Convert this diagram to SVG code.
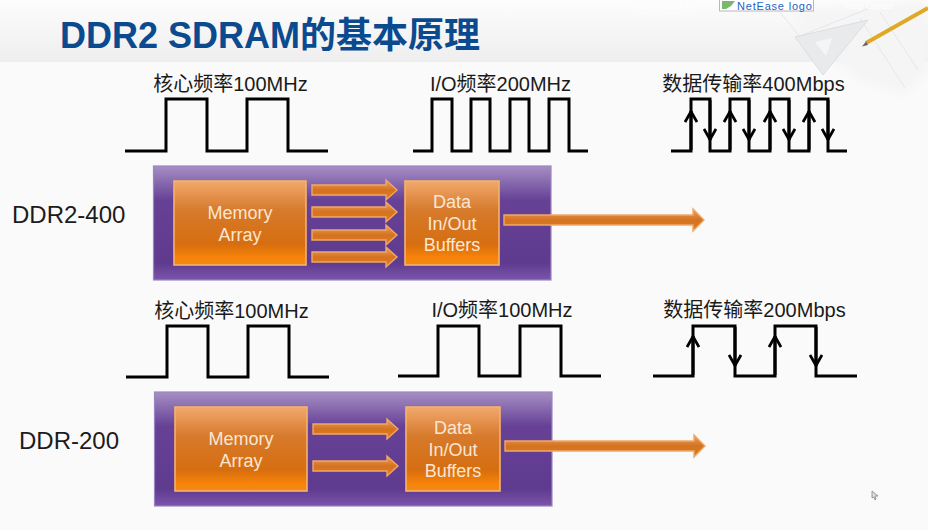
<svg xmlns="http://www.w3.org/2000/svg" width="928" height="530" viewBox="0 0 928 530">
<defs>
<filter id="soft" x="-20%" y="-20%" width="140%" height="140%"><feGaussianBlur stdDeviation="5"/></filter>
<filter id="tiny" x="-10%" y="-10%" width="120%" height="120%"><feGaussianBlur stdDeviation=".6"/></filter>
<linearGradient id="hdr" x1="0" y1="0" x2="0" y2="1"><stop offset="0" stop-color="#fdfdfd"/><stop offset="1" stop-color="#eeeeee"/></linearGradient>
<linearGradient id="panel" x1="0" y1="0" x2="0" y2="1"><stop offset="0" stop-color="#a68fc4"/><stop offset=".3" stop-color="#664196"/><stop offset=".85" stop-color="#5f3b90"/><stop offset="1" stop-color="#7a55a9"/></linearGradient>
<linearGradient id="box" x1="0" y1="0" x2="0" y2="1"><stop offset="0" stop-color="#f2a86c"/><stop offset=".35" stop-color="#d67a2c"/><stop offset=".75" stop-color="#d66e10"/><stop offset=".92" stop-color="#f98408"/><stop offset="1" stop-color="#ee8a1c"/></linearGradient>
<linearGradient id="arr" x1="0" y1="0" x2="0" y2="1"><stop offset="0" stop-color="#eca066"/><stop offset=".5" stop-color="#d4731f"/><stop offset="1" stop-color="#e07c20"/></linearGradient>
<marker id="tip" viewBox="0 0 14 14" refX="13" refY="7" markerWidth="14" markerHeight="14" markerUnits="userSpaceOnUse" orient="auto"><path d="M2 1 L12.500 7 L2 13" fill="none" stroke="#000" stroke-width="2.800"/></marker>
</defs>
<style>
.bg{fill:#fafafb}
.panel{fill:url(#panel);stroke:#9a86c0;stroke-width:1.2}
.box{fill:url(#box);stroke:#f6b26e;stroke-width:1.6}
.arrow{fill:url(#arr);stroke:#f0a868;stroke-width:1.4}
.wave{fill:none;stroke:#000;stroke-width:3}
.edge{fill:none;stroke:#000;stroke-width:3;marker-end:url(#tip)}
text{font-family:"Liberation Sans","Noto Sans CJK SC",sans-serif}
.cap{font-size:20px;fill:#1a1a1a;text-anchor:middle}
.in{font-size:18px;fill:#fbe6d2;text-anchor:middle}
.name{font-size:24px;fill:#1c1c1c}
.title{font-size:36px;font-weight:bold;fill:#0b4a8e}
.draft{fill:none;stroke:#e6e7e9;stroke-width:1}
.top{font-size:9px;fill:#fff}
</style>
<rect class="bg" width="928" height="530"/>
<g id="header">
<rect width="928" height="62" fill="url(#hdr)"/>
<path d="M790 10 L928 0 V70 L905 95 L860 80 L830 58Z" fill="#f5f5f6" filter="url(#soft)"/>
<path class="draft" d="M780 12 L812 52 M860 18 L905 88 M880 12 L918 70 M800 36 L870 8"/>
<path d="M795 37 L868 20 L823 75Z" fill="#e9eaec" stroke="#dcdde0" filter="url(#tiny)"/>
<path d="M815 42 L832 38 L826 56Z" fill="#f5f5f6"/>
<path d="M866 43 L928 8" stroke="#dfa925" stroke-width="4" fill="none"/>
<path d="M862 46.500 L866 41.500 L868 45Z" fill="#666"/>
<text class="top" x="630" y="9">Video hosted by</text>
<rect x="719.500" y="-8" width="94" height="19" fill="#fff" stroke="#b8b8c0"/>
<path d="M722 1H735L731 6L726 9H722Z" fill="#7cb86a"/>
<text x="737" y="10" font-size="11" letter-spacing=".8" fill="#1c62c8">NetEase logo</text>
<text class="top" x="845" y="9">Help Center</text>
<text class="title" x="60" y="48">DDR2 SDRAM的基本原理</text>
</g>
<g id="row-ddr2-400">
<text class="name" x="12" y="223">DDR2-400</text>
<text class="cap" x="230.500" y="91">核心频率100MHz</text>
<text class="cap" x="500.500" y="91">I/O频率200MHz</text>
<text class="cap" x="753.500" y="91">数据传输率400Mbps</text>
<path class="wave" d="M125 151H166V99H207V151H247V99H288V151H328"/>
<path class="wave" d="M413 151H432V99H452V151H471V99H490V151H510V99H529V151H549V99H569V151H588"/>
<path class="wave" d="M671 151H691V99H710V151H730V99H749V151H770V99H789V151H809V99H828V151H847"/>
</g>
<g id="ddr2-panel"><rect class="panel" x="153.500" y="166" width="397.500" height="114"/></g>
<g id="ddr2-memory"><rect class="box" x="174" y="181" width="132" height="84"/><text class="in" x="240" y="219">Memory</text><text class="in" x="240" y="241">Array</text></g>
<g id="ddr2-buffers"><rect class="box" x="405" y="181" width="94" height="84"/><text class="in" x="452" y="208">Data</text><text class="in" x="452" y="230">In/Out</text><text class="in" x="452" y="251">Buffers</text></g>
<g id="row-ddr-200">
<text class="name" x="19" y="449">DDR-200</text>
<text class="cap" x="231.500" y="318">核心频率100MHz</text>
<text class="cap" x="502" y="317">I/O频率100MHz</text>
<text class="cap" x="754.500" y="317">数据传输率200Mbps</text>
<path class="wave" d="M126 377H167V326H208V377H248V326H289V377H329"/>
<path class="wave" d="M398 376H438V326H479V376H520V326H561V376H601"/>
<path class="wave" d="M653 376H693V326H735V376H775V326H816V376H857"/>
</g>
<g id="ddr-panel"><rect class="panel" x="154.500" y="392" width="397.500" height="114"/></g>
<g id="ddr-memory"><rect class="box" x="175" y="407" width="132" height="84"/><text class="in" x="241" y="445">Memory</text><text class="in" x="241" y="467">Array</text></g>
<g id="ddr-buffers"><rect class="box" x="406" y="407" width="94" height="84"/><text class="in" x="453" y="434">Data</text><text class="in" x="453" y="456">In/Out</text><text class="in" x="453" y="477">Buffers</text></g>
<g id="connectors">
<path class="arrow" d="M312 185H386V180L397 190L386 200V195H312Z"/>
<path class="arrow" d="M312 207H386V202L397 212L386 222V217H312Z"/>
<path class="arrow" d="M312 230H386V225L397 235L386 245V240H312Z"/>
<path class="arrow" d="M312 252H386V247L397 257L386 267V262H312Z"/>
<path class="arrow" d="M504 215H693V209L704 220L693 231V225H504Z"/>
<path class="arrow" d="M313 424H387V419L398 429L387 439V434H313Z"/>
<path class="arrow" d="M313 461H387V456L398 466L387 476V471H313Z"/>
<path class="arrow" d="M505 441H694V435L705 446L694 457V451H505Z"/>
<path class="edge" d="M691 150V111"/><path class="edge" d="M710 100V140"/><path class="edge" d="M730 150V111"/><path class="edge" d="M749 100V140"/><path class="edge" d="M770 150V111"/><path class="edge" d="M789 100V140"/><path class="edge" d="M809 150V111"/><path class="edge" d="M828 100V140"/>
<path class="edge" d="M693 375V336"/><path class="edge" d="M735 327V366"/><path class="edge" d="M775 375V336"/><path class="edge" d="M816 327V366"/>
</g>
<path id="cursor" d="M872 491 L872 498 L874 497 L875 500 L876 499 L875 496 L878 496Z" fill="#dcdce0" stroke="#888" stroke-width=".8"/>
</svg>
